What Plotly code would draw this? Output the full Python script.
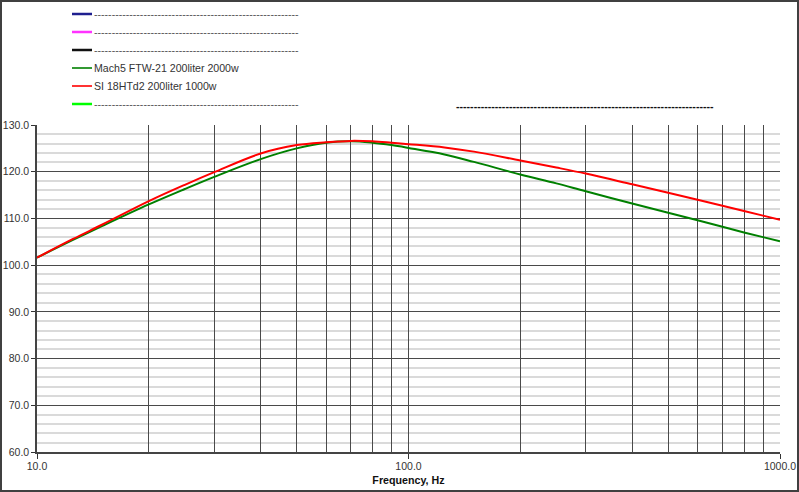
import plotly.graph_objects as go

# Data
freq_hz = [10, 12.5, 15, 20, 25, 30, 40, 50, 60, 70, 80, 90, 100, 125, 150,
           200, 250, 300, 400, 500, 600, 700, 800, 900, 1000]
mach5_db = [101.6, 105.4, 108.4, 113.0, 116.3, 118.9, 122.7, 125.0, 126.2, 126.5,
            126.2, 125.7, 125.1, 123.7, 122.1, 119.4, 117.5, 115.8, 113.2, 111.2,
            109.6, 108.2, 107.0, 106.0, 105.1]
si18_db = [101.6, 105.6, 108.7, 113.7, 117.2, 119.9, 123.9, 125.7, 126.3, 126.6,
           126.5, 126.2, 125.9, 125.2, 124.3, 122.4, 120.9, 119.6, 117.3, 115.5,
           114.0, 112.7, 111.6, 110.6, 109.7]

legend_names = ["-" * 58, "-" * 58, "-" * 58,
                "Mach5 FTW-21 200liter 2000w", "SI 18HTd2 200liter 1000w", "-" * 58]
legend_colors = ["#1f1f8f", "#ff33ff", "#111111", "#008000", "#ff0000", "#00ff00"]
legend_widths = [2.5, 2.5, 2.5, 1.6, 1.6, 2.5]

x_labeled = [10, 100, 1000]
x_grid = [10, 20, 30, 40, 50, 60, 70, 80, 90, 100, 200, 300, 400, 500, 600, 700, 800, 900, 1000]
x_grid_text = ["10.0", "", "", "", "", "", "", "", "", "100.0",
               "", "", "", "", "", "", "", "", "1000.0"]

FONT = "Liberation Sans, Arial, sans-serif"
W, H = 799, 492
L, R, T, B = 37, 19, 125, 40
PW, PH = W - L - R, H - T - B


def px(x):
    return (x - L) / PW


def py(y):
    return (H - B - y) / PH


fig = go.Figure()
fig.add_trace(go.Scatter(x=freq_hz, y=mach5_db, mode="lines", line=dict(color="#008000", width=2, shape="spline"),
                         name=legend_names[3], showlegend=False))
fig.add_trace(go.Scatter(x=freq_hz, y=si18_db, mode="lines", line=dict(color="#ff0000", width=2, shape="spline"),
                         name=legend_names[4], showlegend=False))

shapes = []
annotations = []
for i, (name, col, lw) in enumerate(zip(legend_names, legend_colors, legend_widths)):
    yy = 14 + 18 * i
    shapes.append(dict(type="line", xref="paper", yref="paper", x0=px(72), x1=px(92), y0=py(yy), y1=py(yy),
                       line=dict(color=col, width=lw)))
    is_dash = name.startswith("-")
    annotations.append(dict(xref="paper", yref="paper", x=px(92), y=py(yy), text=name, showarrow=False,
                            xanchor="left", yanchor="middle",
                            font=dict(family=FONT, size=10.6,
                                      color="#555555" if is_dash else "#333333")))

annotations.append(dict(xref="paper", yref="paper", x=px(454), y=py(106), text="<b>" + "-" * 73 + "</b>",
                        showarrow=False, xanchor="left", yanchor="middle",
                        font=dict(family=FONT, size=10.6, color="#111111")))

# outer frame
shapes.append(dict(type="rect", xref="paper", yref="paper", x0=px(1), x1=px(798), y0=py(491), y1=py(1),
                   line=dict(color="#404040", width=2), layer="above"))

fig.update_layout(
    width=W, height=H,
    margin=dict(l=L, r=R, t=T, b=B, pad=0),
    paper_bgcolor="white", plot_bgcolor="white",
    showlegend=False,
    shapes=shapes, annotations=annotations,
    font=dict(family=FONT, size=10.5, color="#333333"),
    xaxis=dict(type="log", range=[1, 3], tickvals=x_grid, ticktext=x_grid_text, automargin=False,
               showgrid=True, gridcolor="#4a4a4a", gridwidth=1,
               ticks="", ticklabelstandoff=4,
               minor=dict(tickvals=x_labeled, showgrid=False, ticks="outside", ticklen=5, tickcolor="#333333"),
               showline=True, linecolor="#444444", linewidth=1.5, zeroline=False,
               title=dict(text="<b>Frequency, Hz</b>", font=dict(family=FONT, size=10.7, color="#111111"), standoff=5),
               tickfont=dict(family=FONT, size=10.5, color="#333333")),
    yaxis=dict(range=[60, 130], dtick=10, tick0=60, tickformat=".1f", automargin=False,
               showgrid=True, gridcolor="#4a4a4a", gridwidth=1,
               minor=dict(dtick=2, showgrid=True, gridcolor="#dadada", gridwidth=2, ticks=""),
               ticks="outside", ticklen=4, tickcolor="#333333",
               showline=True, linecolor="#444444", linewidth=1.5, zeroline=False,
               tickfont=dict(family=FONT, size=10.5, color="#333333")),
)

fig.write_html("out.html", config={"displayModeBar": False},
               post_script="document.body.style.margin='0px';document.body.style.overflow='hidden';")
